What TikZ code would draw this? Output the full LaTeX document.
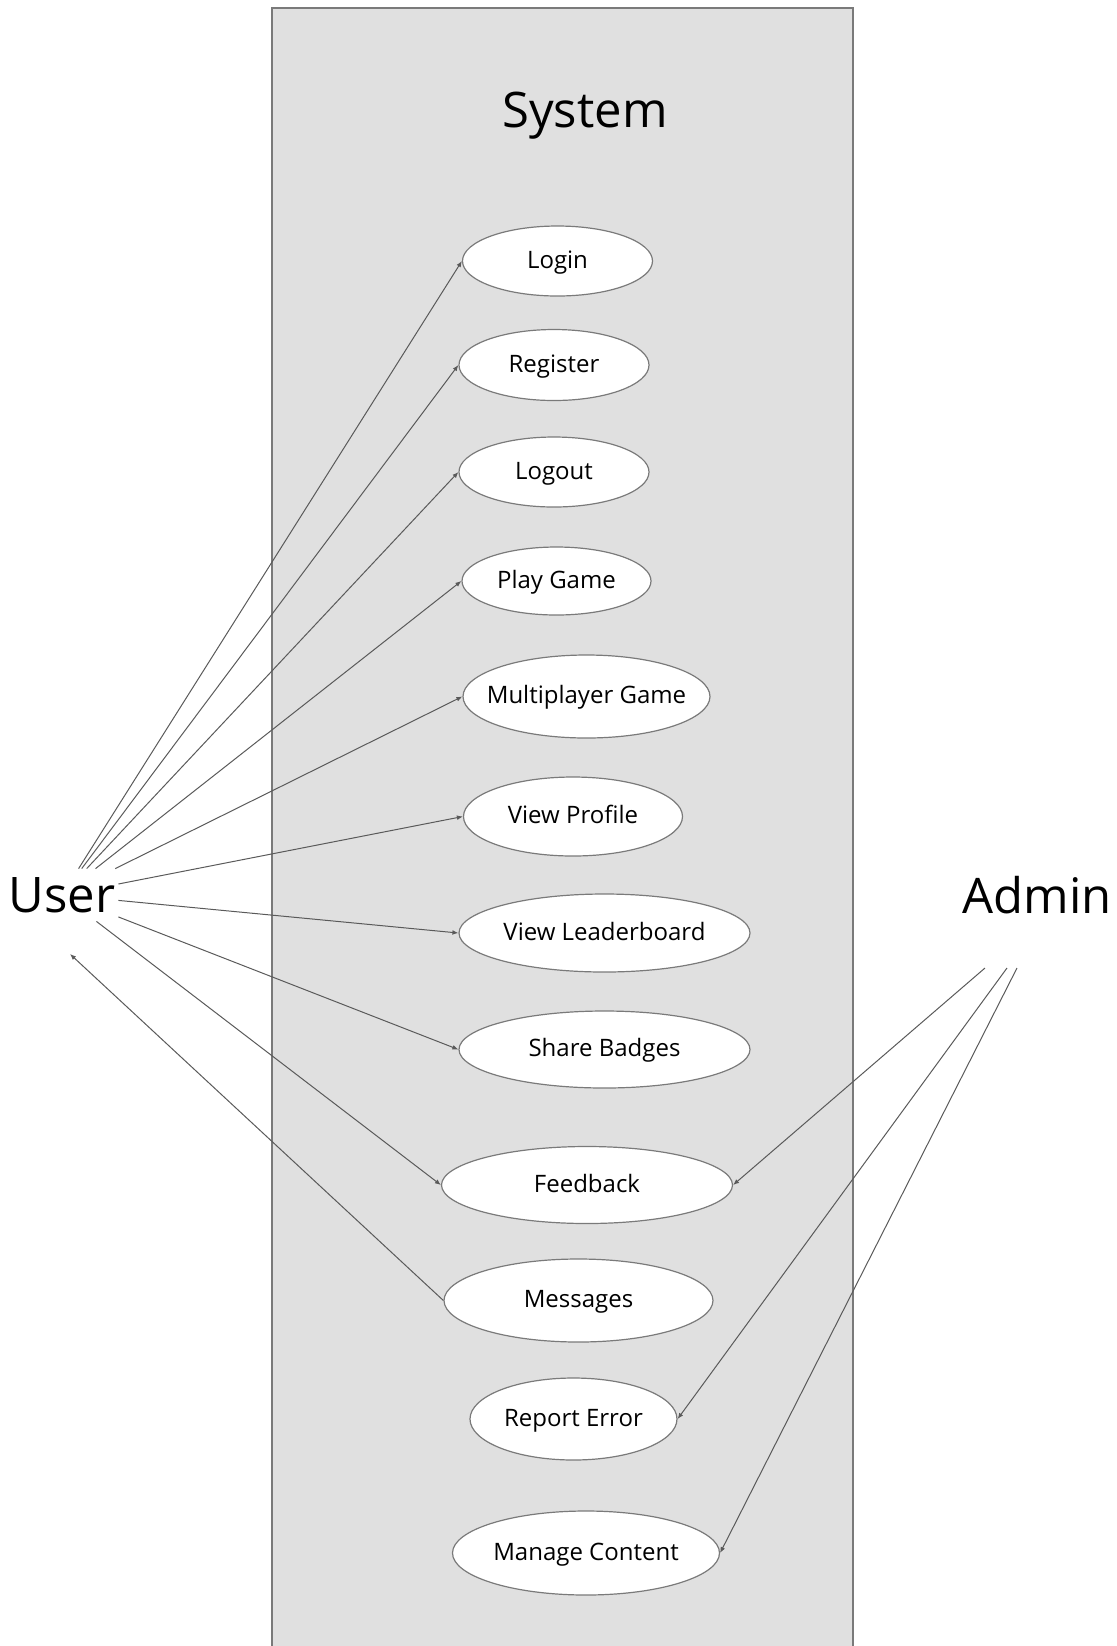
\documentclass[tikz,border=0pt]{standalone}
\usepackage{fontspec}
\setmainfont{Open Sans}
\usepackage{xcolor}
\usepackage{tikz}
\usetikzlibrary{shapes.geometric,arrows.meta}

\definecolor{sysgray}{HTML}{E0E0E0}
\definecolor{edgegray}{HTML}{7A7A7A}
\definecolor{linegray}{HTML}{5A5A5A}

\begin{document}
\begin{tikzpicture}[x=0.5pt, y=-0.5pt,
		usecase/.style 2 args={ellipse, draw=edgegray, fill=white, line width=0.6pt,
			inner xsep=-8pt, inner ysep=0pt, text height=0.72em, text depth=0pt,
			minimum width=#1*0.5pt, minimum height=#2*0.5pt, font=\fontsize{12}{14}\selectfont},
		actor/.style={inner sep=0pt, font=\fontsize{24.5}{28}\selectfont},
		assoc/.style={draw=linegray, line width=0.5pt, -{Latex[length=3pt,width=2.4pt]}}]

		\useasboundingbox (0,0) rectangle (1116,1646);
		\fill[sysgray] (272,8) rectangle (853,1660);
		\draw[edgegray, line width=0.6pt] (272,1660) -- (272,8) -- (853,8) -- (853,1660);
		\node[actor, anchor=base] (sys) at (585,127) {System};

		\node[actor, minimum width=56pt, minimum height=26pt] (user) at (62,895) {User};
		\node[actor] (admin) at (1037,895) {Admin};
		\coordinate (admin-fb) at (985,968);
		\coordinate (admin-re) at (1007,968);
		\coordinate (admin-mc) at (1017,968);
		\coordinate (user-msg) at (70,954);

		\node[usecase={190}{70}] (login) at (557.5,261) {Login};
		\node[usecase={190}{71}] (register) at (554,365) {Register};
		\node[usecase={190}{70}] (logout) at (554,472) {Logout};
		\node[usecase={189}{68}] (play) at (556.5,581) {Play Game};
		\node[usecase={247}{83}] (multi) at (586.5,696.5) {Multiplayer Game};
		\node[usecase={219}{79}] (profile) at (573,816.5) {View Profile};
		\node[usecase={291}{78}] (leader) at (604.5,933) {View Leaderboard};
		\node[usecase={291}{77}] (badges) at (604.5,1049.5) {Share Badges};
		\node[usecase={291}{77}] (feedback) at (587,1185) {Feedback};
		\node[usecase={269}{83}] (messages) at (578.5,1300.5) {Messages};
		\node[usecase={207}{82}] (report) at (573.5,1419) {Report Error};
		\node[usecase={267}{84}] (manage) at (586,1553) {Manage Content};

		% user side
		\foreach \uc in {login,register,logout,play,multi,profile,leader,badges,feedback}
			\draw[assoc] (user) -- (\uc.west);
		\draw[assoc] (messages.west) -- (user-msg);

		% admin side
		\draw[assoc] (admin-fb) -- (feedback.east);
		\draw[assoc] (admin-re) -- (report.east);
		\draw[assoc] (admin-mc) -- (manage.east);
	\end{tikzpicture}
\end{document}
